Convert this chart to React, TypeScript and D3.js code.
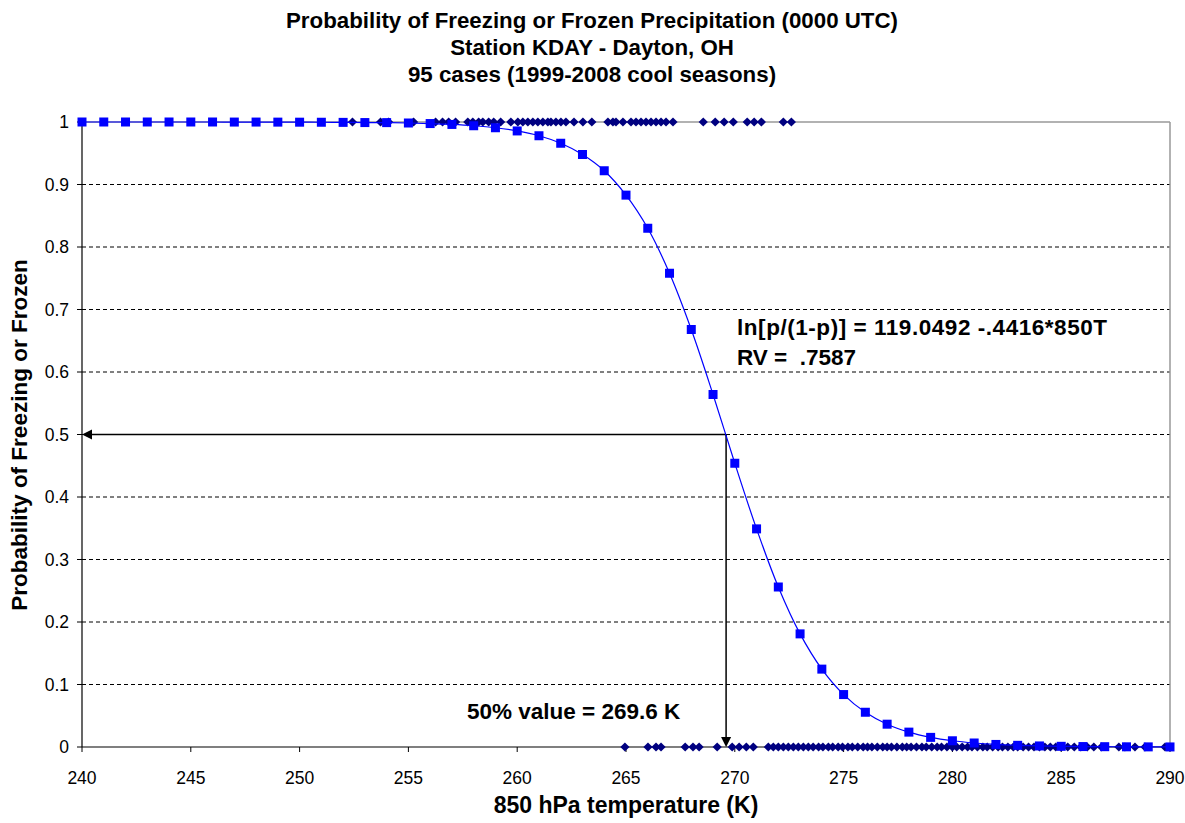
import React from "react";
import * as d3 from "d3";

const titleLines = [
  "Probability of Freezing or Frozen Precipitation (0000 UTC)",
  "Station KDAY - Dayton, OH",
  "95 cases (1999-2008 cool seasons)",
];
const xTicks = [240, 245, 250, 255, 260, 265, 270, 275, 280, 285, 290];
const yTicks = [0, 0.1, 0.2, 0.3, 0.4, 0.5, 0.6, 0.7, 0.8, 0.9, 1];

// fitted probability at each integer temperature (blue squares)
const fitTemps = [
  240, 241, 242, 243, 244, 245, 246, 247, 248, 249, 250, 251, 252, 253, 254, 255, 256,
  257, 258, 259, 260, 261, 262, 263, 264, 265, 266, 267, 268, 269, 270, 271, 272, 273,
  274, 275, 276, 277, 278, 279, 280, 281, 282, 283, 284, 285, 286, 287, 288, 289, 290,
];
const fitProb = [
  1.0, 1.0, 1.0, 1.0, 1.0, 1.0, 1.0, 0.9999, 0.9999, 0.9998, 0.9997, 0.9996, 0.9994,
  0.9991, 0.999, 0.9984, 0.9975, 0.9961, 0.994, 0.9908, 0.9857, 0.978, 0.966, 0.948,
  0.922, 0.883, 0.83, 0.758, 0.668, 0.564, 0.454, 0.349, 0.256, 0.181, 0.1246, 0.0839,
  0.0556, 0.0365, 0.0238, 0.0154, 0.00996, 0.0064, 0.0041, 0.0027, 0.0017, 0.0011,
  0.0007, 0.0005, 0.0003, 0.0002, 0.0001,
];

// observed frozen cases (p = 1)
const frozenTemps = [
  252.43, 253.72, 254.09, 255.24, 256.25, 256.57, 256.85, 257.17, 257.73, 257.96, 258.23,
  258.42, 258.69, 258.92, 259.24, 259.71, 260.03, 260.26, 260.49, 260.72, 260.95, 261.18,
  261.41, 261.55, 261.78, 262.01, 262.24, 262.61, 263.02, 263.43, 264.17, 264.4, 264.54,
  264.86, 265.23, 265.46, 265.69, 265.92, 266.15, 266.38, 266.61, 266.84, 267.16, 268.55,
  269.1, 269.51, 269.93, 270.57, 270.89, 271.22, 272.23, 272.6,
];
// observed non-frozen cases (p = 0)
const liquidTemps = [
  264.95, 266.01, 266.38, 266.61, 267.72, 268.08, 268.36, 269.19, 269.88, 270.2, 270.53,
  270.85, 271.54, 271.77, 272.0, 272.23, 272.46, 272.69, 272.92, 273.15, 273.38, 273.6,
  273.85, 274.05, 274.3, 274.5, 274.75, 274.95, 275.2, 275.4, 275.65, 275.9, 276.1, 276.3,
  276.55, 276.8, 277.0, 277.2, 277.45, 277.7, 277.9, 278.1, 278.35, 278.6, 278.8, 279.05,
  279.3, 279.5, 279.75, 280.0, 280.2, 280.45, 280.7, 280.9, 281.15, 281.4, 281.6, 281.85,
  282.1, 282.3, 282.55, 282.8, 283.0, 283.25, 283.5, 283.75, 284.0, 284.25, 284.5, 284.75,
  285.0, 285.3, 285.6, 285.9, 286.2, 286.5, 286.85, 287.65, 287.93, 288.39, 288.85, 289.77,
];

const fiftyValue = 269.6;

const W = 1185;
const H = 823;
const m = { left: 82, right: 1170, top: 122, bottom: 747 };

export default function App() {
  const x = d3.scaleLinear().domain([240, 290]).range([m.left, m.right]);
  const y = d3.scaleLinear().domain([0, 1]).range([m.bottom, m.top]);
  const pts: [number, number][] = fitTemps.map((t, i) => [x(t), y(fitProb[i])]);
  const line = d3.line().curve(d3.curveCatmullRom.alpha(0.5))(pts) || "";
  const diamond = (cx: number, cy: number, r = 4.6) =>
    `M${cx},${cy - r}L${cx + r},${cy}L${cx},${cy + r}L${cx - r},${cy}Z`;
  const font = "Arial, 'Liberation Sans', Helvetica, sans-serif";
  const x50 = x(fiftyValue);
  const y50 = y(0.5);

  return (
    <svg width={W} height={H} style={{ position: "absolute", left: 0, top: 0, background: "#fff" }} fontFamily={font}>
      <rect x={0} y={0} width={W} height={H} fill="#fff" />
      {titleLines.map((t, i) => (
        <text key={i} x={592} y={28 + i * 27} textAnchor="middle" fontSize={22.3} fontWeight="bold">
          {t}
        </text>
      ))}
      {/* gridlines */}
      {yTicks.filter((v) => v > 0 && v < 1).map((v) => (
        <line key={v} x1={m.left} x2={m.right} y1={y(v)} y2={y(v)} stroke="#000" strokeWidth={1} strokeDasharray="4,3" />
      ))}
      {/* plot border top/right */}
      <line x1={m.left} x2={m.right} y1={m.top} y2={m.top} stroke="#999" strokeWidth={1.5} />
      <line x1={m.right} x2={m.right} y1={m.top} y2={m.bottom} stroke="#999" strokeWidth={1.5} />
      {/* axes */}
      <line x1={m.left} x2={m.left} y1={m.top} y2={m.bottom} stroke="#000" strokeWidth={1.2} />
      <line x1={m.left} x2={m.right} y1={m.bottom} y2={m.bottom} stroke="#000" strokeWidth={1.2} />
      {yTicks.map((v) => (
        <g key={v}>
          <line x1={m.left - 5} x2={m.left} y1={y(v)} y2={y(v)} stroke="#000" />
          <text x={m.left - 13} y={y(v) + 6} textAnchor="end" fontSize={17.5}>
            {String(v)}
          </text>
        </g>
      ))}
      {xTicks.map((v) => (
        <g key={v}>
          <line x1={x(v)} x2={x(v)} y1={m.bottom} y2={m.bottom + 5} stroke="#000" />
          <text x={x(v)} y={m.bottom + 37} textAnchor="middle" fontSize={17.5}>
            {v}
          </text>
        </g>
      ))}
      {/* axis titles */}
      <text x={626} y={813} textAnchor="middle" fontSize={23} fontWeight="bold">
        850 hPa temperature (K)
      </text>
      <text transform={`translate(27,435) rotate(-90)`} textAnchor="middle" fontSize={22.5} fontWeight="bold">
        Probability of Freezing or Frozen
      </text>
      {/* arrows */}
      <line x1={x50} x2={m.left + 8} y1={y50} y2={y50} stroke="#000" strokeWidth={1.5} />
      <path d={`M${m.left},${y50}L${m.left + 10},${y50 - 5}L${m.left + 10},${y50 + 5}Z`} fill="#000" />
      <line x1={x50} x2={x50} y1={y50} y2={m.bottom - 8} stroke="#000" strokeWidth={1.5} />
      <path d={`M${x50},${m.bottom}L${x50 - 5},${m.bottom - 10}L${x50 + 5},${m.bottom - 10}Z`} fill="#000" />
      {/* observations */}
      {frozenTemps.map((t, i) => (
        <path key={"f" + i} d={diamond(x(t), y(1))} fill="#000080" />
      ))}
      {liquidTemps.map((t, i) => (
        <path key={"l" + i} d={diamond(x(t), y(0))} fill="#000080" />
      ))}
      {/* fitted curve */}
      <path d={line} fill="none" stroke="#0000FF" strokeWidth={1.2} />
      {pts.map(([px, py], i) => (
        <rect key={"s" + i} x={px - 4.5} y={py - 4.5} width={9} height={9} fill="#0000FF" />
      ))}
      {/* annotations */}
      <text x={737} y={335} fontSize={22.5} fontWeight="bold" textLength={370} lengthAdjust="spacing">
        ln[p/(1-p)] = 119.0492 -.4416*850T
      </text>
      <text x={737} y={365} fontSize={22.5} fontWeight="bold" style={{ whiteSpace: "pre" }}>
        {"RV =  .7587"}
      </text>
      <text x={467} y={719} fontSize={22.5} fontWeight="bold">
        50% value = 269.6 K
      </text>
    </svg>
  );
}
